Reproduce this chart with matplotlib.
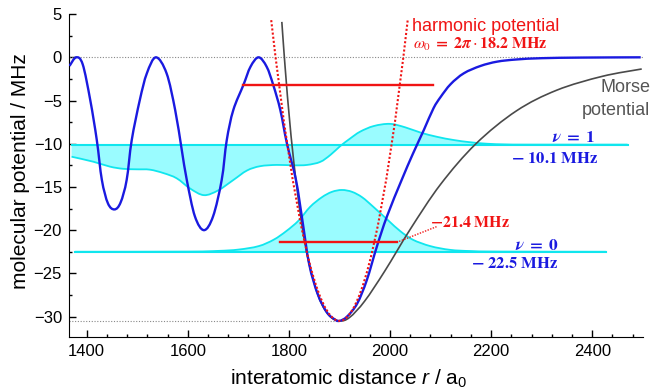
import matplotlib
matplotlib.use("Agg")
import matplotlib.pyplot as plt
import numpy as np
from matplotlib.path import Path
from matplotlib.patches import PathPatch
from matplotlib.ticker import MultipleLocator

plt.rcParams['font.family'] = ['Liberation Sans', 'DejaVu Sans']
plt.rcParams['mathtext.fontset'] = 'custom'
plt.rcParams['mathtext.rm'] = 'Liberation Sans'
plt.rcParams['mathtext.it'] = 'Liberation Sans:italic'
plt.rcParams['mathtext.bf'] = 'Liberation Sans:bold'

# ---------------- data ----------------
# molecular potential (blue)
pot_r = [1366, 1379, 1392, 1407, 1420, 1430, 1442, 1455, 1467, 1479, 1489, 1505, 1519, 1537,
         1558, 1575, 1588, 1598, 1614, 1632, 1650, 1667, 1677, 1690, 1710, 1724, 1740, 1756,
         1769, 1783, 1796, 1814, 1826, 1840, 1857, 1875, 1890, 1900, 1915, 1935, 1954, 1974,
         1994, 2023, 2045, 2067, 2086, 2100, 2120, 2146, 2179, 2212, 2250, 2300, 2380, 2496]
pot_V = [-1.0, 0.0, -0.8, -4.95, -9.6, -14.2, -16.9, -17.6, -16.8, -14.2, -9.6, -4.95, -1.85, 0.0,
         -1.85, -6.1, -10.7, -14.2, -18.4, -20.0, -18.4, -14.2, -9.6, -6.1, -3.2, -1.09, 0.0, -1.09,
         -3.2, -6.1, -9.95, -14.2, -18.6, -23.9, -27.4, -29.5, -30.3, -30.5, -30.0, -28.5, -25.8, -21.9,
         -18.4, -14.2, -11.2, -8.4, -5.9, -4.6, -3.1, -1.85, -1.0, -0.5, -0.25, -0.1, -0.03, 0.0]

# Morse potential (grey)
morse_r = [1786, 1790, 1795, 1800, 1810, 1825, 1840, 1860, 1880, 1900, 1920, 1950, 1990,
           2040, 2100, 2170, 2250, 2330, 2420, 2498]
morse_V = [4.1, 0.8, -2.97, -6.4, -12.3, -19.1, -23.9, -27.9, -29.9, -30.5, -30.1, -28.2, -24.7,
           -19.9, -14.7, -10.0, -6.2, -3.8, -2.2, -1.35]

# harmonic potential (red dotted): two upper ends and the minimum
harm_r = [1765, 1900, 2035]
harm_V = [4.3, -30.5, 4.3]

# vibrational states
E1 = -10.1
psi1_r = [1370, 1413, 1446, 1472, 1499, 1525, 1552, 1578, 1605, 1632, 1660, 1690, 1717, 1743,
          1776, 1809, 1836, 1862, 1882, 1901, 1921, 1941, 1968, 2000, 2030, 2060, 2093, 2126,
          2159, 2192, 2230, 2280, 2470]
psi1_V = [-11.5, -12.08, -12.65, -12.9, -12.96, -13.0, -13.4, -14.0, -15.2, -15.95, -15.4, -14.2,
          -13.1, -12.6, -12.45, -12.5, -12.45, -12.1, -11.3, -10.3, -9.4, -8.6, -7.95, -7.7, -8.1,
          -8.7, -9.2, -9.57, -9.83, -10.0, -10.08, -10.1, -10.1]
E0 = -22.5
psi0_r = [1377, 1600, 1660, 1700, 1740, 1770, 1795, 1819, 1842, 1865, 1885, 1905, 1925, 1945,
          1967, 1997, 2020, 2045, 2080, 2119, 2160, 2220, 2427]
psi0_V = [-22.5, -22.48, -22.4, -22.25, -21.85, -21.1, -20.1, -18.9, -17.3, -16.2, -15.57, -15.35,
          -15.57, -16.2, -17.3, -18.9, -20.1, -21.1, -21.85, -22.28, -22.42, -22.48, -22.5]

# red horizontal levels
lev_top_r = [1710, 2085]
lev_top_V = -3.2
lev_harm_r = [1783, 2014]
lev_harm_V = -21.4
leader_r = [2018, 2092]
leader_V = [-21.3, -19.6]

# reference lines
zero_r = [1365, 2500]
depth_r = [1365, 1900]
depth_V = -30.5

xlim = (1365, 2500)
ylim = (-32.4, 5)

# ---------------- helpers ----------------
def smooth_verts(xs, ys):
    P = np.column_stack([xs, ys]).astype(float)
    n = len(P)
    verts = [P[0]]
    codes = [Path.MOVETO]
    for i in range(n - 1):
        p0 = P[i - 1] if i > 0 else P[i]
        p1 = P[i]
        p2 = P[i + 1]
        p3 = P[i + 2] if i + 2 < n else P[i + 1]
        c1 = p1 + (p2 - p0) / 6.0
        c2 = p2 - (p3 - p1) / 6.0
        verts += [c1, c2, p2]
        codes += [Path.CURVE4] * 3
    return verts, codes

def smooth_line(ax, xs, ys, **kw):
    v, c = smooth_verts(xs, ys)
    ax.add_patch(PathPatch(Path(v, c), fill=False, **kw))

def smooth_fill(ax, xs, ys, base, **kw):
    v, c = smooth_verts(xs, ys)
    v = list(v) + [(xs[-1], base), (xs[0], base), (xs[0], ys[0])]
    c = list(c) + [Path.LINETO, Path.LINETO, Path.CLOSEPOLY]
    ax.add_patch(PathPatch(Path(v, c), **kw))

# ---------------- figure ----------------
fig = plt.figure(figsize=(6.53, 3.92), dpi=100)
ax = fig.add_axes([0.1057, 0.1395, 0.8786, 0.8245])

BLUE = '#1a1ae0'
CYAN = '#10e6ee'
CYANFILL = '#9afcff'
RED = '#f01414'
GREY = '#4a4a4a'

# wavefunction fills
smooth_fill(ax, psi1_r, psi1_V, E1, facecolor=CYANFILL, edgecolor='none', zorder=1)
smooth_fill(ax, psi0_r, psi0_V, E0, facecolor=CYANFILL, edgecolor='none', zorder=1)
smooth_line(ax, psi1_r, psi1_V, edgecolor=CYAN, lw=1.3, zorder=2)
smooth_line(ax, psi0_r, psi0_V, edgecolor=CYAN, lw=1.3, zorder=2)
ax.plot([psi1_r[0], psi1_r[-1]], [E1, E1], color=CYAN, lw=1.5, zorder=2)
ax.plot([psi0_r[0], psi0_r[-1]], [E0, E0], color=CYAN, lw=1.5, zorder=2)

# dotted reference lines
ax.plot(zero_r, [0, 0], color='#888888', lw=0.8, ls=(0, (1, 1.5)), zorder=2.5)
ax.plot(depth_r, [depth_V, depth_V], color='#888888', lw=0.8, ls=(0, (1, 1.5)), zorder=2.5)

# Morse potential
smooth_line(ax, morse_r, morse_V, edgecolor=GREY, lw=1.2, zorder=3)

# blue potential
smooth_line(ax, pot_r, pot_V, edgecolor=BLUE, lw=1.7, zorder=4)

# harmonic potential (parabola as quadratic Bezier through the minimum)
ctrl_V = 2 * harm_V[1] - (harm_V[0] + harm_V[2]) / 2
hp = Path([(harm_r[0], harm_V[0]), (harm_r[1], ctrl_V), (harm_r[2], harm_V[2])],
          [Path.MOVETO, Path.CURVE3, Path.CURVE3])
ax.add_patch(PathPatch(hp, fill=False, edgecolor=RED, lw=1.5, ls=(0, (1, 1)), zorder=5))

# red levels
ax.plot(lev_top_r, [lev_top_V] * 2, color=RED, lw=1.7, zorder=6)
ax.plot(lev_harm_r, [lev_harm_V] * 2, color=RED, lw=1.7, zorder=6)
ax.plot(leader_r, leader_V, color=RED, lw=1.0, ls=(0, (1, 1)), zorder=6)

# texts
ax.text(2043, 3.55, 'harmonic potential', color=RED, fontsize=13, ha='left', va='center')
ax.text(2046, 1.45,
        r'$\boldsymbol{\omega_0}\;\mathbf{=}\;\mathbf{2}\boldsymbol{\pi}\cdot\mathbf{18.2\ MHz}$',
        color=RED, fontsize=11.5, ha='left', va='center', math_fontfamily='stix')
ax.text(2516, -3.55, 'Morse', color='#555555', fontsize=13, ha='right', va='center', clip_on=False)
ax.text(2514, -6.1, 'potential', color='#555555', fontsize=13, ha='right', va='center', clip_on=False)

ax.text(2406, -9.85, r'$\boldsymbol{\nu}\;\mathbf{=}\;\mathbf{1}$', color=BLUE, fontsize=12.5,
        ha='right', va='baseline', math_fontfamily='stix')
ax.text(2412, -12.2, r'$\mathbf{-\ 10.1\ MHz}$', color=BLUE, fontsize=12, ha='right',
        va='baseline', math_fontfamily='stix')
ax.text(2333, -22.25, r'$\boldsymbol{\nu}\;\mathbf{=}\;\mathbf{0}$', color=BLUE, fontsize=12.5,
        ha='right', va='baseline', math_fontfamily='stix')
ax.text(2333, -24.4, r'$\mathbf{-\ 22.5\ MHz}$', color=BLUE, fontsize=12, ha='right',
        va='baseline', math_fontfamily='stix')
ax.text(2080, -19.6, r'$\mathbf{-21.4\ MHz}$', color=RED, fontsize=11.5, ha='left',
        va='baseline', math_fontfamily='stix')

# axes styling
ax.set_xlim(*xlim)
ax.set_ylim(*ylim)
for s in ['top', 'right']:
    ax.spines[s].set_visible(False)
ax.xaxis.set_major_locator(MultipleLocator(200))
ax.xaxis.set_minor_locator(MultipleLocator(40))
ax.yaxis.set_major_locator(MultipleLocator(5))
ax.yaxis.set_minor_locator(MultipleLocator(2.5))
ax.tick_params(which='both', direction='in', labelsize=12, width=1)
ax.tick_params(which='major', length=5, pad=5)
ax.tick_params(which='minor', length=2.5)

ax.set_xlabel(r'interatomic distance $r$ / a$_0$', fontsize=15)
ax.set_ylabel('molecular potential / MHz', fontsize=15)
ax.xaxis.set_label_coords(0.487, -0.095)
ax.yaxis.set_label_coords(-0.068, 0.514)

fig.savefig('out.png', dpi=100)
